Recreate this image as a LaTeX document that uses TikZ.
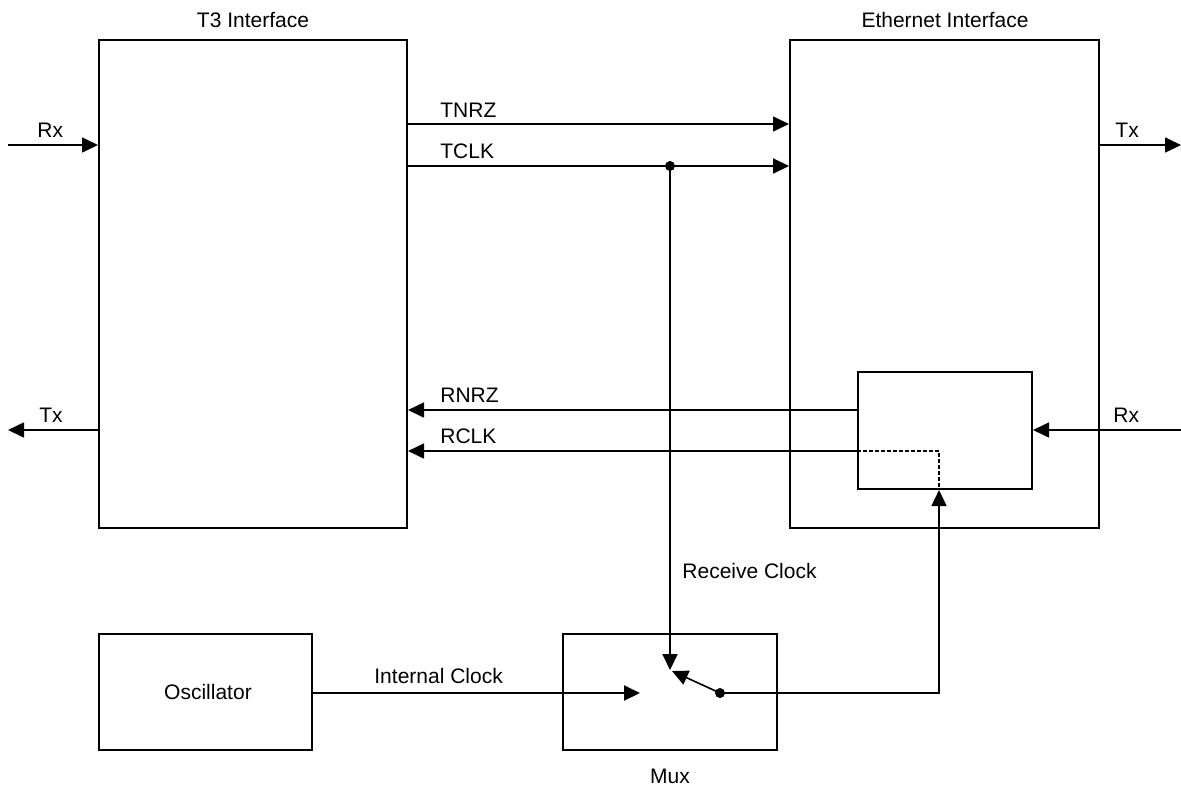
\documentclass[tikz,border=0pt]{standalone}
\usepackage{fontspec}
\setmainfont{Liberation Sans}
\usetikzlibrary{arrows.meta}
\tikzset{
  box/.style={draw, line width=1pt, rectangle, inner sep=0pt},
  lbl/.style={inner sep=0pt, font=\fontsize{10.5}{12}\selectfont},
  arr/.style={line width=0.8pt, -{Triangle[length=8pt,width=7.5pt]}},
  wire/.style={line width=0.8pt},
  dotted wire/.style={line width=0.8pt, dash pattern=on 2pt off 1pt},
}
\begin{document}
\begin{tikzpicture}[x=0.5pt,y=-0.5pt]
\useasboundingbox (0,0) rectangle (1181,788);
% boxes
\node[box, minimum width=154pt, minimum height=244pt] (t3) at (253,284) {};
\node[box, minimum width=154.5pt, minimum height=244pt] (eth) at (944.5,284) {};
\node[box, minimum width=87pt, minimum height=58.5pt] (inner) at (945,430.5) {};
\node[box, minimum width=106.5pt, minimum height=58pt] (osc) at (205.5,692) {};
\node[box, minimum width=107pt, minimum height=58pt] (mux) at (670,692) {};
% labels
\node[lbl, anchor=base] (t3l) at (253,27) {T3 Interface};
\node[lbl, anchor=base] (ethl) at (945,27) {Ethernet Interface};
\node[lbl, anchor=base west] (rxll) at (37,137) {Rx};
\node[lbl, anchor=base west] (txll) at (39,422) {Tx};
\node[lbl, anchor=base west] (tnrzl) at (440,117) {TNRZ};
\node[lbl, anchor=base west] (tclkl) at (440,158) {TCLK};
\node[lbl, anchor=base west] (rnrzl) at (440,402) {RNRZ};
\node[lbl, anchor=base west] (rclkl) at (440,443) {RCLK};
\node[lbl, anchor=base west] (txrl) at (1115,137) {Tx};
\node[lbl, anchor=base west] (rxrl) at (1113,422) {Rx};
\node[lbl, anchor=base west] (rcl) at (682,578) {Receive Clock};
\node[lbl, anchor=base west] (icl) at (374,683) {Internal Clock};
\node[lbl, anchor=base] (oscl) at (208,699) {Oscillator};
\node[lbl, anchor=base] (muxl) at (670,783) {Mux};
% coordinates
\coordinate (rxlin) at (8,145);
\coordinate (txlout) at (8,430);
\coordinate (tnrz) at (600,124);
\coordinate (tap) at (670,166);
\coordinate (rnrz) at (600,410);
\coordinate (rclk) at (600,451);
\coordinate (dcorner) at (939,451);
\coordinate (txr) at (1181,145);
\coordinate (rxr) at (1181,430);
\coordinate (swtop) at (670,670);
\coordinate (swleft) at (640,693);
\coordinate (swpivot) at (720,693);
\coordinate (swtip) at (672,671);
\coordinate (outc) at (939,693);
% connectors
\draw[arr] (rxlin) -- (rxlin -| t3.west);
\draw[arr] (txlout -| t3.west) -- (txlout);
\draw[arr] (tnrz -| t3.east) -- (tnrz -| eth.west);
\draw[arr, line width=1pt] (tap -| t3.east) -- (tap -| eth.west);
\fill (tap) circle (2.5pt);
\draw[arr] (rnrz -| inner.west) -- (rnrz -| t3.east);
\draw[arr] (rclk -| inner.west) -- (rclk -| t3.east);
\draw[dotted wire] (rclk -| inner.west) -- (dcorner) -- (dcorner |- inner.south);
\draw[arr] (txr -| eth.east) -- (txr);
\draw[arr] (rxr) -- (rxr -| inner.east);
\draw[arr, line width=1pt] (tap) -- (swtop);
\draw[arr, line width=1pt] (osc.east |- swleft) -- (swleft);
\draw[arr] (swpivot) -- (swtip);
\fill (swpivot) circle (2.5pt);
\draw[arr] (swpivot) -- (outc) -- (outc |- inner.south);
\end{tikzpicture}
\end{document}
